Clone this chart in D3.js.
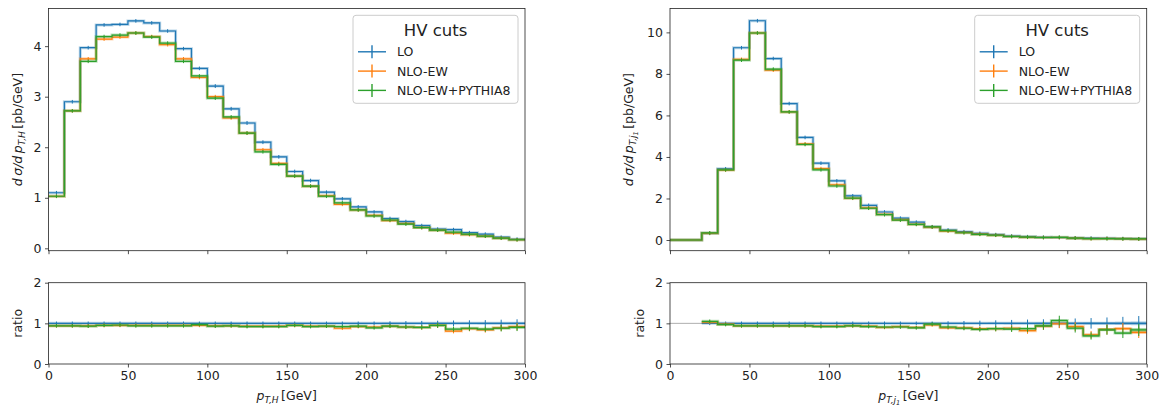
<!DOCTYPE html>
<html>
<head>
<meta charset="utf-8">
<script src="https://cdn.jsdelivr.net/npm/d3@7"></script>
<style>
  body { margin: 0; background: #fff; }
  svg { font-family: "DejaVu Sans", sans-serif; }
</style>
</head>
<body>
<script>
(function() {
    "use strict";

    // bin edges in GeV (10 GeV bins from 0 to 300)
    var edges = [0, 10, 20, 30, 40, 50, 60, 70, 80, 90, 100, 110, 120, 130, 140, 150,
                 160, 170, 180, 190, 200, 210, 220, 230, 240, 250, 260, 270, 280, 290, 300];
    var seriesNames = ["LO", "NLO-EW", "NLO-EW+PYTHIA8"];
    var xTicks = [0, 50, 100, 150, 200, 250, 300];

    // left: p_T,H distribution [pb/GeV]
    var hLO = [1.10, 2.90, 3.97, 4.42, 4.43, 4.50, 4.46, 4.30, 3.95, 3.56, 3.21, 2.76, 2.48, 2.10, 1.81,
               1.52, 1.34, 1.11, 0.98, 0.82, 0.72, 0.59, 0.53, 0.45, 0.38, 0.37, 0.31, 0.28, 0.22, 0.18];
    var hNLO = [1.03, 2.72, 3.75, 4.14, 4.18, 4.26, 4.19, 4.03, 3.75, 3.38, 3.00, 2.58, 2.28, 1.95, 1.68,
                1.43, 1.23, 1.04, 0.87, 0.76, 0.65, 0.55, 0.49, 0.41, 0.36, 0.30, 0.27, 0.24, 0.20, 0.17];
    var hPY8 = [1.03, 2.72, 3.70, 4.19, 4.22, 4.26, 4.18, 4.06, 3.70, 3.41, 2.97, 2.60, 2.28, 1.91, 1.66,
                1.43, 1.23, 1.03, 0.90, 0.76, 0.64, 0.56, 0.48, 0.41, 0.36, 0.32, 0.28, 0.24, 0.20, 0.17];
    var hRatioLO = [1, 1, 1, 1, 1, 1, 1, 1, 1, 1, 1, 1, 1, 1, 1,
                    1, 1, 1, 1, 1, 1, 1, 1, 1, 1, 1, 1, 1, 1, 1];
    var hRatioNLO = [0.94, 0.94, 0.94, 0.95, 0.95, 0.95, 0.95, 0.95, 0.95, 0.95, 0.94, 0.94, 0.93, 0.93, 0.93,
                     0.95, 0.93, 0.93, 0.88, 0.92, 0.91, 0.93, 0.91, 0.90, 0.95, 0.81, 0.87, 0.84, 0.89, 0.92];
    var hRatioPY8 = [0.94, 0.94, 0.93, 0.95, 0.96, 0.94, 0.94, 0.94, 0.94, 0.97, 0.93, 0.94, 0.92, 0.92, 0.92,
                     0.95, 0.92, 0.93, 0.92, 0.93, 0.89, 0.93, 0.91, 0.90, 0.95, 0.86, 0.88, 0.86, 0.88, 0.90];
    // relative statistical uncertainty per bin
    var hRelErr = [0.010, 0.008, 0.008, 0.008, 0.008, 0.008, 0.008, 0.008, 0.008, 0.010, 0.012, 0.014, 0.016, 0.018, 0.020,
                   0.024, 0.028, 0.032, 0.036, 0.040, 0.045, 0.050, 0.055, 0.060, 0.065, 0.070, 0.075, 0.080, 0.090, 0.100];

    // right: p_T,j1 distribution [pb/GeV]
    var jLO = [0, 0, 0.32, 3.43, 9.26, 10.56, 8.74, 6.57, 4.94, 3.70, 2.85, 2.13, 1.67, 1.35, 1.05,
               0.86, 0.64, 0.48, 0.40, 0.32, 0.26, 0.19, 0.16, 0.13, 0.12, 0.10, 0.09, 0.08, 0.07, 0.06];
    var jNLO = [0, 0, 0.33, 3.37, 8.70, 9.97, 8.18, 6.17, 4.63, 3.44, 2.66, 2.01, 1.55, 1.24, 0.97,
                0.76, 0.62, 0.43, 0.36, 0.28, 0.23, 0.17, 0.13, 0.12, 0.12, 0.09, 0.066, 0.07, 0.06, 0.047];
    var jPY8 = [0, 0, 0.34, 3.38, 8.66, 9.97, 8.23, 6.17, 4.60, 3.38, 2.60, 2.02, 1.53, 1.22, 0.96,
                0.75, 0.63, 0.45, 0.35, 0.27, 0.23, 0.17, 0.14, 0.12, 0.13, 0.09, 0.064, 0.066, 0.055, 0.05];
    var jRatioLO = [null, null, 1, 1, 1, 1, 1, 1, 1, 1, 1, 1, 1, 1, 1,
                    1, 1, 1, 1, 1, 1, 1, 1, 1, 1, 1, 1, 1, 1, 1];
    var jRatioNLO = [null, null, 1.03, 0.98, 0.94, 0.94, 0.94, 0.94, 0.94, 0.93, 0.93, 0.94, 0.93, 0.90, 0.92,
                     0.90, 0.96, 0.89, 0.89, 0.87, 0.87, 0.88, 0.82, 0.93, 0.99, 0.92, 0.72, 0.85, 0.87, 0.78];
    var jRatioPY8 = [null, null, 1.05, 0.97, 0.94, 0.94, 0.94, 0.94, 0.94, 0.92, 0.92, 0.94, 0.92, 0.91, 0.91,
                     0.89, 0.98, 0.91, 0.88, 0.85, 0.87, 0.86, 0.87, 0.94, 1.07, 0.88, 0.69, 0.84, 0.76, 0.84];
    var jRelErr = [0, 0, 0.040, 0.010, 0.006, 0.006, 0.007, 0.008, 0.010, 0.012, 0.015, 0.018, 0.022, 0.026, 0.030,
                   0.036, 0.042, 0.050, 0.058, 0.066, 0.075, 0.084, 0.093, 0.100, 0.110, 0.120, 0.130, 0.145, 0.160, 0.180];

    var COLORS = ["#1f77b4", "#ff7f0e", "#2ca02c"];
    var TEXT = "#222";

    var svg = d3.select("body").append("svg")
        .attr("width", 1166)
        .attr("height", 408);

    function drawAxes(g, x, y, yTicks, showXLabels) {
        var r = x.range(), b = y.range();
        var xa = g.append("g").attr("transform", "translate(0," + b[0] + ")")
            .call(d3.axisBottom(x).tickValues(xTicks).tickSize(3.5).tickPadding(3.5)
                .tickFormat(showXLabels ? d3.format("d") : ""));
        var ya = g.append("g").attr("transform", "translate(" + r[0] + ",0)")
            .call(d3.axisLeft(y).tickValues(yTicks).tickSize(3.5).tickPadding(3.5).tickFormat(d3.format("d")));
        [xa, ya].forEach(function(a) {
            a.select(".domain").remove();
            a.selectAll("line").attr("stroke", TEXT).attr("stroke-width", 0.8);
            a.selectAll("text").attr("fill", TEXT).attr("font-size", 12.5)
                .attr("font-family", "DejaVu Sans");
        });
        g.append("rect")
            .attr("x", r[0]).attr("y", b[1])
            .attr("width", r[1] - r[0]).attr("height", b[0] - b[1])
            .attr("fill", "none").attr("stroke", TEXT).attr("stroke-width", 0.8);
    }

    function stepPoints(vals) {
        var pts = vals.map(function(v, i) { return { x: edges[i], v: v }; });
        pts.push({ x: edges[edges.length - 1], v: vals[vals.length - 1] });
        return pts;
    }

    function drawSeries(g, x, y, vals, relErr, color) {
        var pts = stepPoints(vals);
        var errs = relErr.slice(); errs.push(relErr[relErr.length - 1]);
        var defined = function(d) { return d.v !== null; };
        var step = d3.line().defined(defined).curve(d3.curveStepAfter)
            .x(function(d) { return x(d.x); })
            .y(function(d) { return y(d.v); });
        // faint uncertainty band
        g.append("path")
            .datum(pts)
            .attr("fill", color).attr("fill-opacity", 0.3)
            .attr("d", d3.area().defined(defined).curve(d3.curveStepAfter)
                .x(function(d) { return x(d.x); })
                .y0(function(d, i) { return y(d.v * (1 - 0.25 * errs[i])); })
                .y1(function(d, i) { return y(d.v * (1 + 0.25 * errs[i])); }));
        g.append("path")
            .datum(pts)
            .attr("fill", "none").attr("stroke", color).attr("stroke-opacity", 0.3)
            .attr("stroke-width", 3).attr("d", step);
        g.append("path")
            .datum(pts)
            .attr("fill", "none").attr("stroke", color).attr("stroke-width", 1.2)
            .attr("d", step);
        // error bars at bin centres
        vals.forEach(function(v, i) {
            if (v === null || v === 0) return;
            var cx = x((edges[i] + edges[i + 1]) / 2);
            var h = Math.max(Math.abs(y(v) - y(v * (1 + relErr[i]))), 1.8);
            g.append("line")
                .attr("x1", cx).attr("x2", cx)
                .attr("y1", y(v) - h).attr("y2", y(v) + h)
                .attr("stroke", color).attr("stroke-width", 1);
        });
    }

    function italic(t, s, dy, size) {
        var ts = t.append("tspan").text(s).attr("font-style", "italic");
        if (dy) ts.attr("dy", dy);
        if (size) ts.attr("font-size", size);
        return ts;
    }

    function yLabel(cx, cy, sub, subsub) {
        var t = svg.append("text")
            .attr("transform", "translate(" + cx + "," + cy + ") rotate(-90)")
            .attr("text-anchor", "middle").attr("font-size", 12.5).attr("fill", TEXT);
        italic(t, "d\u2009\u03c3/d\u2009p");
        italic(t, "T," + sub, 3, 9);
        if (subsub) {
            italic(t, subsub, 2, 6.5);
            t.append("tspan").text("\u2009[pb/GeV]").attr("dy", -5);
        } else {
            t.append("tspan").text("\u2009[pb/GeV]").attr("dy", -3);
        }
    }

    function xLabel(cx, cy, sub, subsub) {
        var t = svg.append("text")
            .attr("x", cx).attr("y", cy)
            .attr("text-anchor", "middle").attr("font-size", 12.5).attr("fill", TEXT);
        italic(t, "p");
        italic(t, "T," + sub, 3, 9);
        if (subsub) {
            italic(t, subsub, 2, 6.5);
            t.append("tspan").text("\u2009[GeV]").attr("dy", -5);
        } else {
            t.append("tspan").text("\u2009[GeV]").attr("dy", -3);
        }
    }

    function legend(x0, y0) {
        var g = svg.append("g").attr("transform", "translate(" + x0 + "," + y0 + ")");
        g.append("rect").attr("width", 165).attr("height", 88).attr("rx", 3)
            .attr("fill", "#fff").attr("fill-opacity", 0.8)
            .attr("stroke", "#ccc").attr("stroke-width", 1);
        g.append("text").attr("x", 82.5).attr("y", 21).attr("text-anchor", "middle")
            .attr("font-size", 16.5).attr("fill", TEXT).text("HV cuts");
        seriesNames.forEach(function(name, i) {
            var yy = 36.5 + i * 19.3;
            g.append("line").attr("x1", 5).attr("x2", 33).attr("y1", yy).attr("y2", yy)
                .attr("stroke", COLORS[i]).attr("stroke-width", 1.4);
            g.append("line").attr("x1", 19).attr("x2", 19).attr("y1", yy - 6.5).attr("y2", yy + 6.5)
                .attr("stroke", COLORS[i]).attr("stroke-width", 1.4);
            g.append("text").attr("x", 44).attr("y", yy + 4.5)
                .attr("font-size", 12.5).attr("fill", TEXT).text(name);
        });
    }

    function panel(opts) {
        var x = d3.scaleLinear().domain([0, 300]).range([opts.left, opts.right]);
        var yTop = d3.scaleLinear().domain(opts.yDomain).range([250.7, 8.5]);
        var yRat = d3.scaleLinear().domain([0, 2]).range([364, 282.7]);

        var clipId = "clip" + Math.round(opts.left);
        svg.append("clipPath").attr("id", clipId + "t").append("rect")
            .attr("x", opts.left).attr("y", 8.5).attr("width", opts.right - opts.left).attr("height", 242.2);
        svg.append("clipPath").attr("id", clipId + "r").append("rect")
            .attr("x", opts.left).attr("y", 282.7).attr("width", opts.right - opts.left).attr("height", 81.3);

        var gTop = svg.append("g");
        var dataTop = gTop.append("g").attr("clip-path", "url(#" + clipId + "t)");
        opts.top.forEach(function(vals, i) {
            drawSeries(dataTop, x, yTop, vals, opts.relErr, COLORS[i]);
        });
        drawAxes(gTop, x, yTop, opts.yTicks, false);

        var gRat = svg.append("g");
        var dataRat = gRat.append("g").attr("clip-path", "url(#" + clipId + "r)");
        dataRat.append("line")
            .attr("x1", opts.left).attr("x2", opts.right)
            .attr("y1", yRat(1)).attr("y2", yRat(1))
            .attr("stroke", "#999").attr("stroke-width", 0.8);
        opts.ratio.forEach(function(vals, i) {
            drawSeries(dataRat, x, yRat, vals, opts.relErr, COLORS[i]);
        });
        drawAxes(gRat, x, yRat, [0, 1, 2], true);

        legend(opts.right - 172, 15.3);
    }

    panel({
        left: 48.5, right: 525,
        yDomain: [-0.047, 4.745], yTicks: [0, 1, 2, 3, 4],
        top: [hLO, hNLO, hPY8],
        ratio: [hRatioLO, hRatioNLO, hRatioPY8],
        relErr: hRelErr
    });
    panel({
        left: 670, right: 1146.7,
        yDomain: [-0.515, 11.15], yTicks: [0, 2, 4, 6, 8, 10],
        top: [jLO, jNLO, jPY8],
        ratio: [jRatioLO, jRatioNLO, jRatioPY8],
        relErr: jRelErr
    });

    yLabel(22, 129.6, "H");
    yLabel(633, 129.6, "j", "1");
    svg.append("text").attr("transform", "translate(22,323.3) rotate(-90)")
        .attr("text-anchor", "middle").attr("font-size", 12.5).attr("fill", TEXT).text("ratio");
    svg.append("text").attr("transform", "translate(644,323.3) rotate(-90)")
        .attr("text-anchor", "middle").attr("font-size", 12.5).attr("fill", TEXT).text("ratio");
    xLabel(286.7, 400, "H");
    xLabel(908.3, 400, "j", "1");
}());
</script>
</body>
</html>
